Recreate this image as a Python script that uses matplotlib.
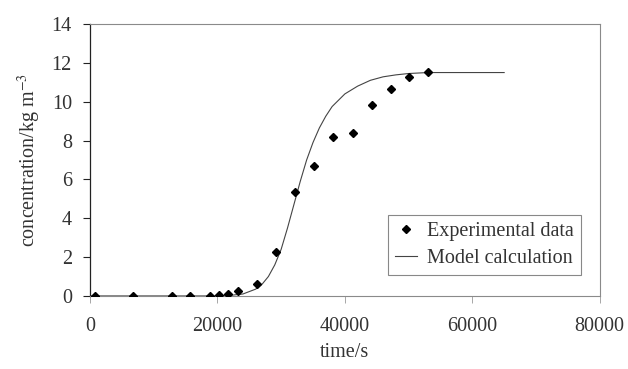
import matplotlib

matplotlib.use("Agg")

import matplotlib.pyplot as plt

# experimental points
exp_time = [800, 6700, 12800, 15700, 18800, 20200, 21700, 23200, 26200,
            29200, 32200, 35100, 38200, 41200, 44200, 47200, 50100, 53100]
exp_conc = [0.0, 0.0, 0.0, 0.0, 0.0, 0.03, 0.1, 0.26, 0.62,
            2.25, 5.37, 6.7, 8.17, 8.37, 9.81, 10.64, 11.26, 11.53]

# model curve, traced by eye
model_time = [0, 10000, 20000, 22000, 24000, 26000, 27000, 28000, 29000, 30000,
              31000, 32000, 33000, 34000, 35000, 36000, 37000, 38000, 40000,
              42000, 44000, 46000, 48000, 50000, 53000, 58000, 65000]
model_conc = [0.0, 0.0, 0.0, 0.03, 0.1, 0.35, 0.6, 1.0, 1.6, 2.4,
              3.5, 4.7, 5.9, 7.0, 7.9, 8.65, 9.25, 9.75, 10.4,
              10.8, 11.1, 11.28, 11.38, 11.45, 11.5, 11.5, 11.5]

plt.rcParams["font.family"] = ["Liberation Serif", "DejaVu Serif"]
plt.rcParams["mathtext.fontset"] = "stix"
plt.rcParams["font.size"] = 14.5

fig = plt.figure(figsize=(6.28, 3.69), dpi=100)
ax = fig.add_axes([0.1433, 0.198, 0.8117, 0.737])

ax.plot(model_time, model_conc, color="#444444", lw=0.8, label="Model calculation", zorder=2)
ax.plot(exp_time, exp_conc, ls="none", marker="D", ms=4, color="black",
        label="Experimental data", zorder=3)

ax.set_xlim(0, 80000)
ax.set_ylim(0, 14)
ax.set_xticks([0, 20000, 40000, 60000, 80000])
ax.set_yticks(range(0, 15, 2))

for side in ("top", "right", "bottom"):
    ax.spines[side].set_color("#8a8a8a")
    ax.spines[side].set_linewidth(0.8)
ax.spines["left"].set_color("#222222")
ax.spines["left"].set_linewidth(0.9)

ax.tick_params(axis="x", direction="out", length=5, width=0.6, color="#999999",
               pad=10, labelcolor="#333333")
ax.tick_params(axis="y", direction="out", length=5, width=0.8, color="#222222",
               pad=8, labelcolor="#333333")

ax.set_xlabel("time/s", color="#333333", labelpad=5)
ax.set_ylabel("concentration/kg m$^{-3}$", color="#333333", labelpad=6)

handles, labels = ax.get_legend_handles_labels()
leg = ax.legend(handles[::-1], labels[::-1], loc="lower right",
                bbox_to_anchor=(0.975, 0.055), fancybox=False,
                edgecolor="#888888", framealpha=1, handlelength=1.1,
                handletextpad=0.5, borderpad=0.35, labelspacing=0.4,
                borderaxespad=0.3, markerscale=0.9)
leg.get_frame().set_linewidth(0.8)
for t in leg.get_texts():
    t.set_color("#333333")

fig.savefig("out.png", dpi=100)
